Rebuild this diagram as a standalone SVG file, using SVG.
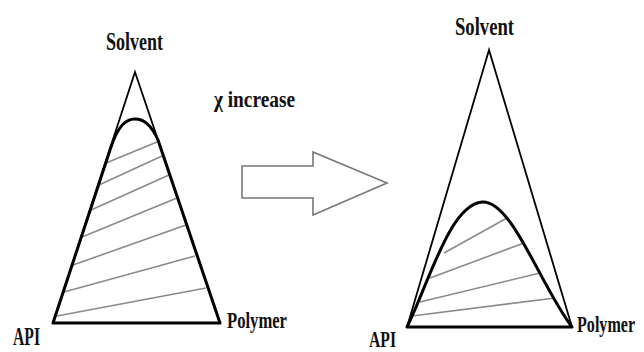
<svg xmlns="http://www.w3.org/2000/svg" width="644" height="352" viewBox="0 0 644 352">
<style>
.lbl{font-family:"Liberation Serif","Times New Roman",serif;font-weight:bold;fill:#111;}
.tri{fill:none;stroke:#000;stroke-width:1.8;stroke-linejoin:miter;}
.curve{fill:none;stroke:#000;stroke-width:3;stroke-linejoin:round;}
.tie{stroke:#8a8a8a;stroke-width:1.6;fill:none;}
.arrow{fill:#fff;stroke:#777;stroke-width:1.6;}
</style>
<rect width="644" height="352" fill="#fff"/>
<g id="left-diagram">
  <polygon class="tri" points="135,72 53,323 220,323"/>
  <g id="left-ties">
    <line class="tie" x1="106" y1="163" x2="157" y2="142"/>
    <line class="tie" x1="99" y1="185" x2="162" y2="156"/>
    <line class="tie" x1="91" y1="210" x2="169" y2="175"/>
    <line class="tie" x1="82" y1="237" x2="177" y2="198"/>
    <line class="tie" x1="73" y1="265" x2="186" y2="225"/>
    <line class="tie" x1="64" y1="292" x2="195" y2="256"/>
    <line class="tie" x1="57" y1="316" x2="206" y2="288"/>
  </g>
  <path class="curve" d="M53,323 L110,150 C118,125 126,119 135,119 C143,119 151,124 158,140 L220,323 Z"/>
  <text class="lbl" x="106" y="50" font-size="26" textLength="57" lengthAdjust="spacingAndGlyphs">Solvent</text>
  <text class="lbl" x="13" y="345" font-size="25" textLength="27" lengthAdjust="spacingAndGlyphs">API</text>
  <text class="lbl" x="227" y="328" font-size="24" textLength="60" lengthAdjust="spacingAndGlyphs">Polymer</text>
</g>
<g id="arrow">
  <polygon class="arrow" points="242,166 313,166 313,152 387,183 313,215 313,198 242,198"/>
  <text class="lbl" x="214" y="107" font-size="24" textLength="81" lengthAdjust="spacingAndGlyphs">χ increase</text>
</g>
<g id="right-diagram">
  <polygon class="tri" points="489,50 407,327 572,327"/>
  <g id="right-ties">
    <line class="tie" x1="444" y1="253" x2="507" y2="218"/>
    <line class="tie" x1="430" y1="278" x2="524" y2="243"/>
    <line class="tie" x1="420" y1="302" x2="540" y2="273"/>
    <line class="tie" x1="412" y1="316" x2="555" y2="298"/>
  </g>
  <path class="curve" d="M407,327 C430,280 450,205 482,202 C512,200 540,285 572,327 Z"/>
  <text class="lbl" x="455" y="35" font-size="25" textLength="59" lengthAdjust="spacingAndGlyphs">Solvent</text>
  <text class="lbl" x="369" y="347" font-size="24" textLength="27" lengthAdjust="spacingAndGlyphs">API</text>
  <text class="lbl" font-size="23" transform="translate(577,332) scale(0.7,1)">Polymer</text>
</g>
</svg>
